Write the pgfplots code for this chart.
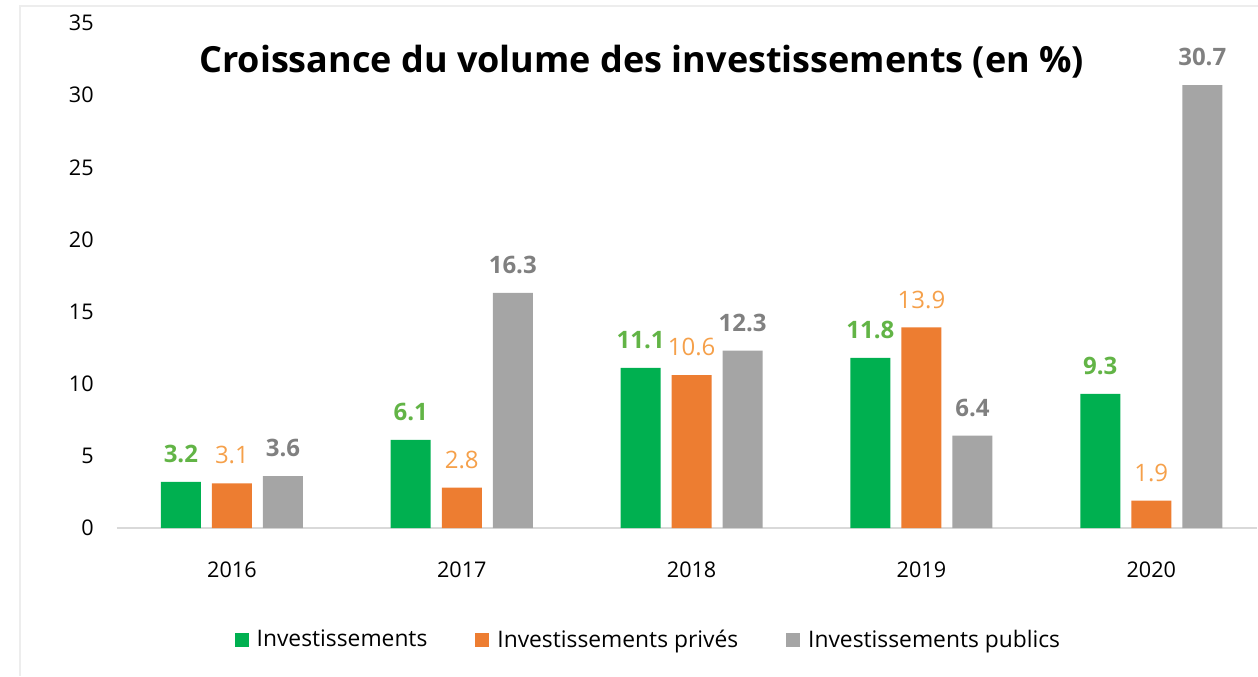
\documentclass[border=0pt]{standalone}
\usepackage{pgfplots}
\pgfplotsset{compat=1.18}
\usepackage{fontspec}
\setmainfont{Open Sans}
\definecolor{cg}{HTML}{00B050}
\definecolor{co}{HTML}{ED7D31}
\definecolor{cy}{HTML}{A5A5A5}
\definecolor{lg}{HTML}{62B446}
\definecolor{lo}{HTML}{F5A04A}
\definecolor{ly}{HTML}{808080}
\begin{document}
\begin{tikzpicture}
\useasboundingbox (-58.5pt,-74pt) rectangle (570.5pt,264pt);
\draw[black!7, line width=1pt] (-48.5pt,-74pt) -- (-48.5pt,261pt) -- (570.5pt,261pt);
\begin{axis}[
  at={(0,0)}, anchor=south west,
  scale only axis, width=570pt, height=252.5pt,
  xmin=-0.5, xmax=4.46, ymin=0, ymax=35,
  axis x line=bottom, axis y line=left,
  y axis line style={draw=none},
  x axis line style={-, draw=black!15, line width=1pt},
  tick style={draw=none},
  ybar, bar width=0.174,
  xtick={0,1,2,3,4}, xticklabels={2016,2017,2018,2019,2020},
  ytick={0,5,...,35},
  /pgf/number format/assume math mode=true,
  ticklabel style={font=\fontsize{10.8}{12}\selectfont, text=black},
  yticklabel style={xshift=-6pt},
  xticklabel style={yshift=-9pt},
  nodes near coords,
  nodes near coords style={/pgf/number format/.cd, fixed, fixed zerofill, precision=1, /tikz/.cd},
  every node near coord/.append style={font=\fontsize{12}{14}\selectfont, yshift=6pt},
  legend style={at={(0.467,-0.222)}, anchor=center, legend columns=3, draw=none,
    font=\fontsize{11.4}{13}\selectfont,
    /tikz/every odd column/.append style={column sep=2pt},
    /tikz/every even column/.append style={column sep=22pt}},
  legend image code/.code={\path[#1,draw=none] (0pt,-3.5pt) rectangle (7pt,3.5pt);},
  legend cell align=left,
]
\addplot[fill=cg, draw=none, bar shift=-0.222, every node near coord/.append style={text=lg, font=\fontsize{12}{14}\selectfont\bfseries}]
  coordinates {(0,3.2) (1,6.1) (2,11.1) (3,11.8) (4,9.3)};
\addplot[fill=co, draw=none, bar shift=0, every node near coord/.append style={text=lo}]
  coordinates {(0,3.1) (1,2.8) (2,10.6) (3,13.9) (4,1.9)};
\addplot[fill=cy, draw=none, bar shift=0.222, every node near coord/.append style={text=ly, font=\fontsize{12}{14}\selectfont\bfseries}]
  coordinates {(0,3.6) (1,16.3) (2,12.3) (3,6.4) (4,30.7)};
\legend{Investissements, Investissements privés, Investissements publics}
\node[font=\fontsize{18}{21}\selectfont\bfseries, text=black] at (axis cs:1.783,32.3) {Croissance du volume des investissements (en \%)};
\end{axis}
\end{tikzpicture}
\end{document}
